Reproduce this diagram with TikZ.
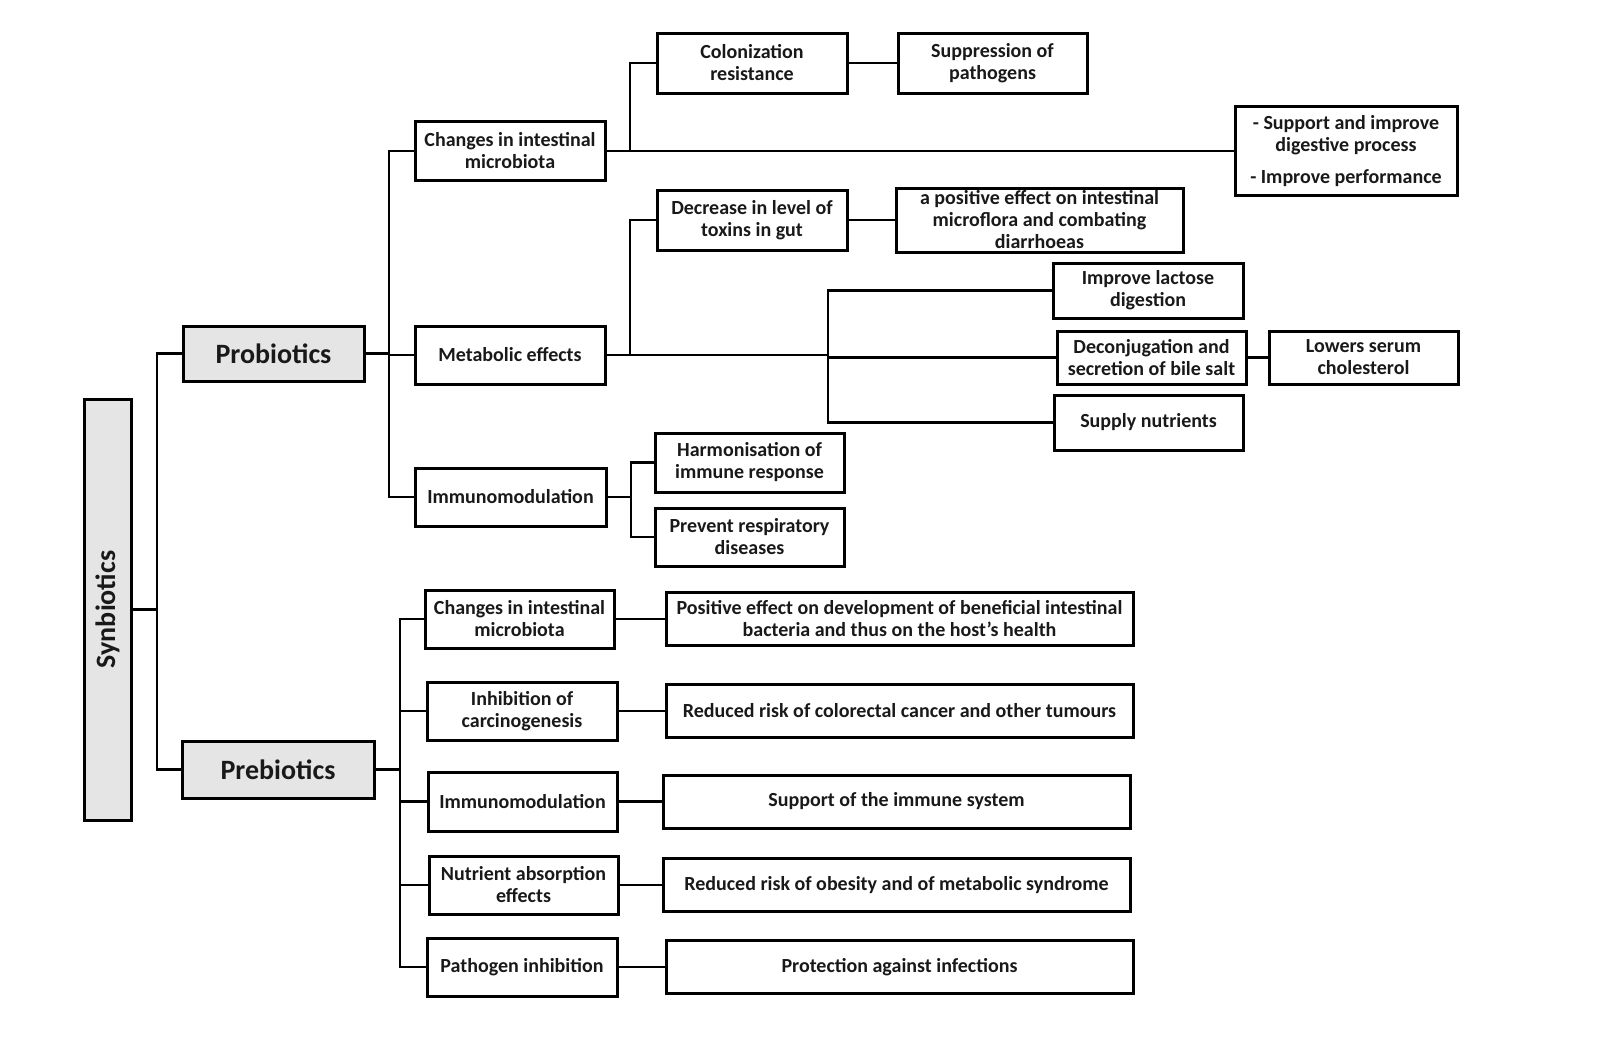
\documentclass[tikz,border=0pt]{standalone}
\usepackage{fontspec}
\setmainfont{Carlito}
\begin{document}
\begin{tikzpicture}[x=1pt,y=-1pt,
  box/.style={draw=black, line width=3pt, fill=white, inner sep=0pt, align=center,
    font=\bfseries\fontsize{20}{22}\selectfont, text=black!90},
  gbox/.style={box, fill=black!10, font=\bfseries\fontsize{28}{32}\selectfont},
  link/.style={draw=black, line width=2.4pt}]
\useasboundingbox (0,0) rectangle (1600,1050);
\fill[white] (0,0) rectangle (1600,1050);

% main boxes
\node[gbox, minimum width=421, minimum height=47, rotate=90] (syn) at (107.5,609.5) {Synbiotics};
\node[gbox, minimum width=181, minimum height=55] (prob) at (273.5,353.5) {Probiotics};
\node[gbox, minimum width=192, minimum height=57] (preb) at (278,769.5) {Prebiotics};

% probiotics level 2
\node[box, minimum width=190, minimum height=59] (pc) at (510,151) {Changes in intestinal\\microbiota};
\node[box, minimum width=190, minimum height=58] (pm) at (510,355) {Metabolic effects};
\node[box, minimum width=191, minimum height=58] (pi) at (510.5,497) {Immunomodulation};

% level 3
\node[box, minimum width=190, minimum height=60] (col) at (752,63) {Colonization\\resistance};
\node[box, minimum width=189, minimum height=60] (sup) at (992.5,63) {Suppression of\\pathogens};
\node[box, minimum width=222, minimum height=89] (supp) at (1346,151) {- Support and improve\\digestive process\\[10pt]- Improve performance};
\node[box, minimum width=190, minimum height=60] (dec) at (752,220) {Decrease in level of\\toxins in gut};
\node[box, minimum width=287, minimum height=64] (pos) at (1039.5,220) {a positive effect on intestinal\\microflora and combating\\diarrhoeas};
\node[box, minimum width=190, minimum height=55] (lac) at (1148,290.5) {Improve lactose\\digestion};
\node[box, minimum width=189, minimum height=53] (dcj) at (1151.5,357.5) {Deconjugation and\\secretion of bile salt};
\node[box, minimum width=189, minimum height=53] (low) at (1363.5,357.5) {Lowers serum\\cholesterol};
\node[box, minimum width=189, minimum height=55] (nut) at (1148.5,422.5) {Supply nutrients};
\node[box, minimum width=189, minimum height=59] (har) at (749.5,462.5) {Harmonisation of\\immune response};
\node[box, minimum width=189, minimum height=58] (res) at (749.5,537) {Prevent respiratory\\diseases};

% prebiotics level 2
\node[box, minimum width=189, minimum height=58] (q1) at (519.5,619) {Changes in intestinal\\microbiota};
\node[box, minimum width=190, minimum height=58] (q2) at (522,711) {Inhibition of\\carcinogenesis};
\node[box, minimum width=189, minimum height=59] (q3) at (522.5,801.5) {Immunomodulation};
\node[box, minimum width=189, minimum height=58] (q4) at (523.5,885) {Nutrient absorption\\effects};
\node[box, minimum width=190, minimum height=58] (q5) at (522,967) {Pathogen inhibition};

\node[box, minimum width=467, minimum height=53] (r1) at (899.5,619) {Positive effect on development of beneficial intestinal\\bacteria and thus on the host's health};
\node[box, minimum width=467, minimum height=53] (r2) at (899.5,711) {Reduced risk of colorectal cancer and other tumours};
\node[box, minimum width=467, minimum height=53] (r3) at (896.5,801.5) {Support of the immune system};
\node[box, minimum width=467, minimum height=53] (r4) at (896.5,885) {Reduced risk of obesity and of metabolic syndrome};
\node[box, minimum width=467, minimum height=53] (r5) at (899.5,967) {Protection against infections};

% bus coordinates
\coordinate (b0) at (157,0);
\coordinate (b1) at (389,0);
\coordinate (b2) at (630,0);
\coordinate (b3) at (631,0);
\coordinate (b4) at (828,0);
\coordinate (b5) at (400,0);

% connectors
\draw[link] (syn.south) -- (syn.south -| b0);
\draw[link] (prob.west) -| (b0 |- preb.west) -- (preb.west);

\draw[link] (prob.east) -- (prob.east -| b1);
\draw[link] (pc.west) -| (b1 |- pi.west) -- (pi.west);
\draw[link] (b1 |- pm.west) -- (pm.west);

\draw[link] (pc.east) -- (supp.west);
\draw[link] (col.west) -| (b2 |- pc.east);
\draw[link] (col.east) -- (sup.west);

\draw[link] (pm.east) -- (pm.east -| b4);
\draw[link] (dec.west) -| (b2 |- pm.east);
\draw[link] (dec.east) -- (pos.west);
\draw[link] (lac.west) -| (b4 |- nut.west) -- (nut.west);
\draw[link] (b4 |- dcj.west) -- (dcj.west);
\draw[link] (dcj.east) -- (low.west);

\draw[link] (pi.east) -- (pi.east -| b3);
\draw[link] (har.west) -| (b3 |- res.west) -- (res.west);

\draw[link] (preb.east) -- (preb.east -| b5);
\draw[link] (q1.west) -| (b5 |- q5.west) -- (q5.west);
\draw[link] (b5 |- q2.west) -- (q2.west);
\draw[link] (b5 |- q3.west) -- (q3.west);
\draw[link] (b5 |- q4.west) -- (q4.west);

\draw[link] (q1.east) -- (r1.west);
\draw[link] (q2.east) -- (r2.west);
\draw[link] (q3.east) -- (r3.west);
\draw[link] (q4.east) -- (r4.west);
\draw[link] (q5.east) -- (r5.west);
\end{tikzpicture}
\end{document}
